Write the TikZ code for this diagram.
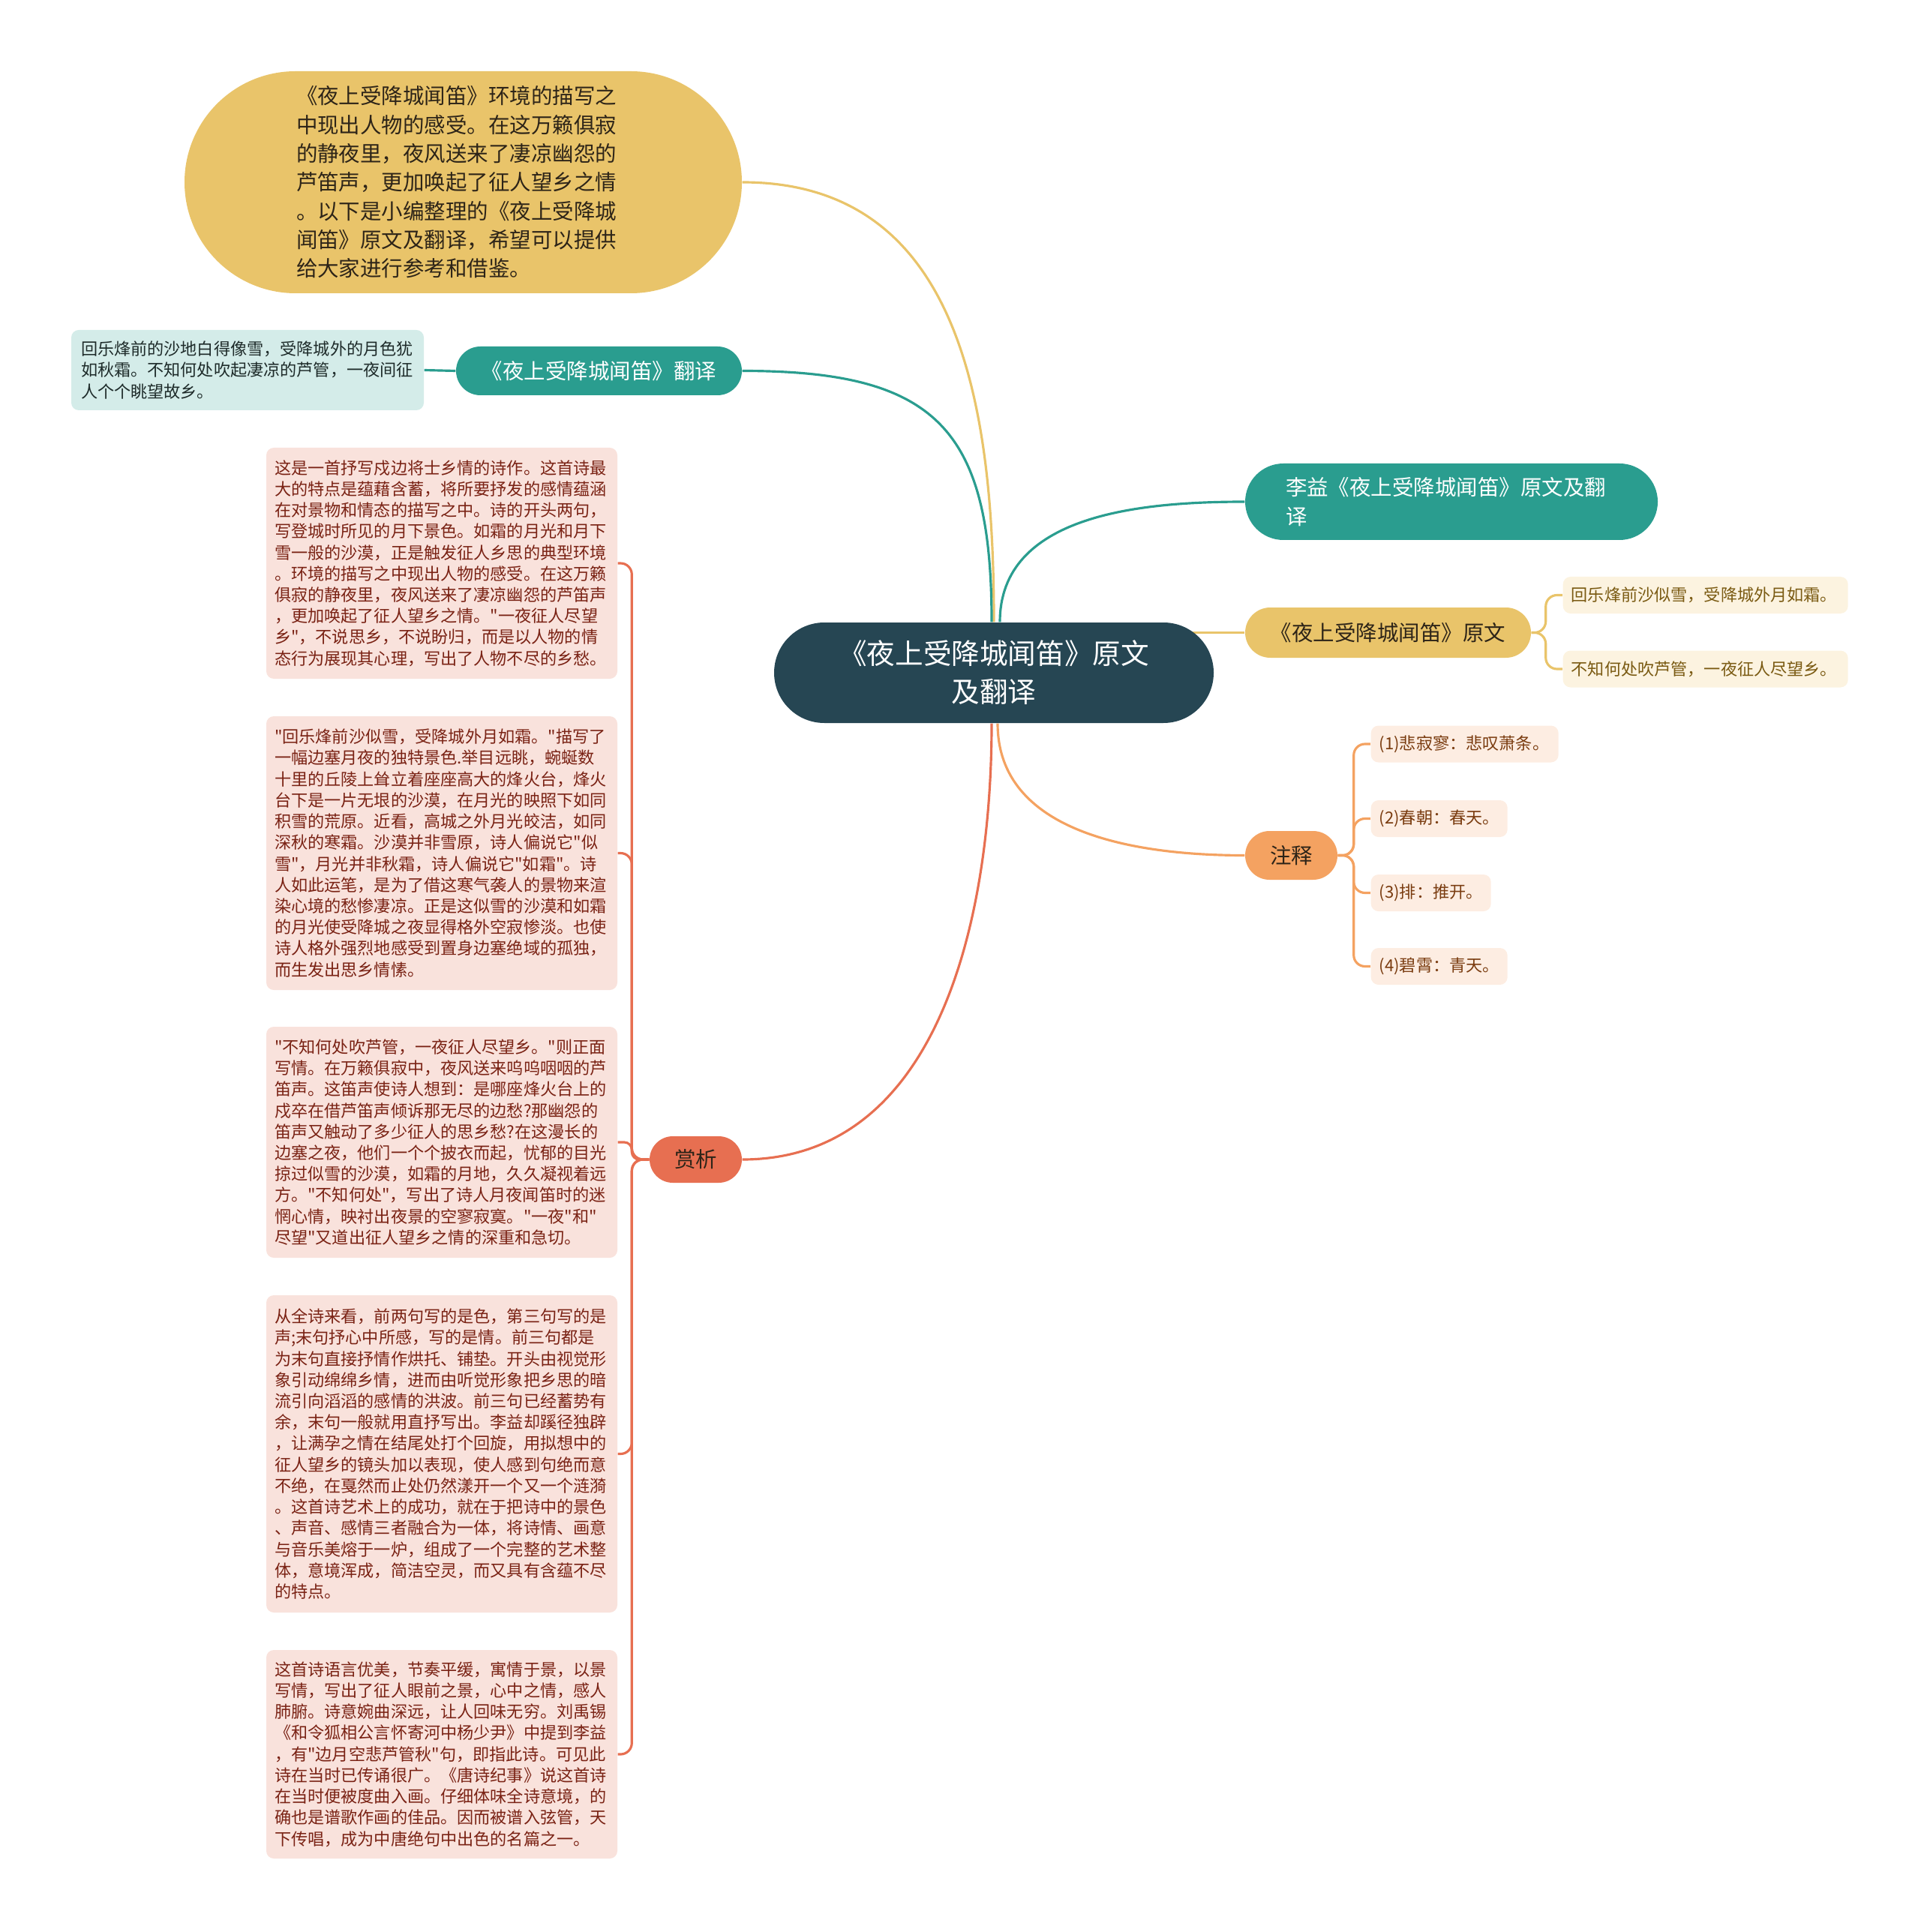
\documentclass[tikz,border=0pt]{standalone}
\usepackage{fontspec}
\usepackage{tikz}
\usetikzlibrary{backgrounds}
\newfontfamily\cjk{Noto Sans CJK SC}
\definecolor{rootc}{HTML}{264653}
\definecolor{tealc}{HTML}{2A9D8F}
\definecolor{yellc}{HTML}{E9C46A}
\definecolor{orngc}{HTML}{F4A261}
\definecolor{coralc}{HTML}{E76F51}
\definecolor{tealleaf}{HTML}{D4ECE9}
\definecolor{yellleaf}{HTML}{FCF3E0}
\definecolor{orngleaf}{HTML}{FDEDE2}
\definecolor{coralleaf}{HTML}{F9E2DC}
\definecolor{darktext}{HTML}{2D2418}
\definecolor{tealtext}{HTML}{1E2B2A}
\definecolor{yelltext}{HTML}{7A5A12}
\definecolor{orngtext}{HTML}{7A3C10}
\definecolor{coraltext}{HTML}{7A2214}
\newcommand\leaffont{\cjk\fontsize{6.3pt}{8.03pt}\selectfont}
\newcommand\topicfont{\cjk\fontsize{8.1pt}{10.9pt}\selectfont}
\newcommand\rootfont{\cjk\fontsize{10.7pt}{14.5pt}\selectfont}

\begin{document}
\begin{tikzpicture}[
  root/.style={fill=rootc,text=white,font=\rootfont,rounded corners=0.67cm,minimum width=5.86cm,minimum height=1.34cm,text width=4.4cm,align=center,inner sep=0pt},
  topic/.style={rounded corners=#1,minimum height=2*#1,inner sep=0pt,font=\topicfont},
  leaf/.style={rounded corners=0.1cm,font=\leaffont,align=left,inner xsep=0.11cm,inner ysep=0pt},
  link/.style={draw=#1,line width=0.9pt}]
\useasboundingbox (0,0) rectangle (25.6,-25.76);
\node[root] (root) at (13.25,-8.97) {《夜上受降城闻笛》原文\\及翻译};
\node[topic=1.48cm,fill=yellc,text=darktext,minimum width=7.43cm,text width=4.45cm,align=left] (intro) at (6.175,-2.43) {《夜上受降城闻笛》环境的描写之\\中现出人物的感受。在这万籁俱寂\\的静夜里，夜风送来了凄凉幽怨的\\芦笛声，更加唤起了征人望乡之情\\。以下是小编整理的《夜上受降城\\闻笛》原文及翻译，希望可以提供\\给大家进行参考和借鉴。};
\node[topic=0.325cm,fill=tealc,text=white,minimum width=3.81cm] (trans) at (7.985,-4.945) {《夜上受降城闻笛》翻译};
\node[leaf,fill=tealleaf,text=tealtext,text width=4.44cm,inner xsep=0.13cm,minimum height=1.07cm] (transleaf) at (3.30,-4.935) {回乐烽前的沙地白得像雪，受降城外的月色犹\\如秋霜。不知何处吹起凄凉的芦管，一夜间征\\人个个眺望故乡。};
\node[topic=0.51cm,fill=tealc,text=white,minimum width=5.5cm,text width=4.42cm,align=left] (liyi) at (19.35,-6.69) {李益《夜上受降城闻笛》原文及翻\\译};
\node[topic=0.335cm,fill=yellc,text=darktext,minimum width=3.81cm] (yuanwen) at (18.505,-8.435) {《夜上受降城闻笛》原文};
\node[leaf,fill=yellleaf,text=yelltext,anchor=west,text width=3.58cm,minimum height=0.49cm] (yw1) at (20.83,-7.935) {回乐烽前沙似雪，受降城外月如霜。};
\node[leaf,fill=yellleaf,text=yelltext,anchor=west,text width=3.58cm,minimum height=0.49cm] (yw2) at (20.83,-8.92) {不知何处吹芦管，一夜征人尽望乡。};
\node[topic=0.325cm,fill=orngc,text=darktext,minimum width=1.23cm] (zhushi) at (17.215,-11.405) {注释};
\node[leaf,fill=orngleaf,text=orngtext,anchor=west,text width=2.28cm,minimum height=0.49cm] (zs1) at (18.27,-9.92) {(1)悲寂寥：悲叹萧条。};
\node[leaf,fill=orngleaf,text=orngtext,anchor=west,text width=1.60cm,minimum height=0.49cm] (zs2) at (18.27,-10.915) {(2)春朝：春天。};
\node[leaf,fill=orngleaf,text=orngtext,anchor=west,text width=1.38cm,minimum height=0.49cm] (zs3) at (18.27,-11.905) {(3)排：推开。};
\node[leaf,fill=orngleaf,text=orngtext,anchor=west,text width=1.60cm,minimum height=0.49cm] (zs4) at (18.27,-12.885) {(4)碧霄：青天。};
\node[topic=0.31cm,fill=coralc,text=darktext,minimum width=1.23cm] (shangxi) at (9.275,-15.46) {赏析};
\node[leaf,fill=coralleaf,text=coraltext,text width=4.46cm,minimum height=3.08cm] (sx1) at (5.89,-7.51) {这是一首抒写戍边将士乡情的诗作。这首诗最\\大的特点是蕴藉含蓄，将所要抒发的感情蕴涵\\在对景物和情态的描写之中。诗的开头两句，\\写登城时所见的月下景色。如霜的月光和月下\\雪一般的沙漠，正是触发征人乡思的典型环境\\。环境的描写之中现出人物的感受。在这万籁\\俱寂的静夜里，夜风送来了凄凉幽怨的芦笛声\\，更加唤起了征人望乡之情。"一夜征人尽望\\乡"，不说思乡，不说盼归，而是以人物的情\\态行为展现其心理，写出了人物不尽的乡愁。};
\node[leaf,fill=coralleaf,text=coraltext,text width=4.46cm,minimum height=3.65cm] (sx2) at (5.89,-11.375) {"回乐烽前沙似雪，受降城外月如霜。"描写了\\一幅边塞月夜的独特景色.举目远眺，蜿蜒数\\十里的丘陵上耸立着座座高大的烽火台，烽火\\台下是一片无垠的沙漠，在月光的映照下如同\\积雪的荒原。近看，高城之外月光皎洁，如同\\深秋的寒霜。沙漠并非雪原，诗人偏说它"似\\雪"，月光并非秋霜，诗人偏说它"如霜"。诗\\人如此运笔，是为了借这寒气袭人的景物来渲\\染心境的愁惨凄凉。正是这似雪的沙漠和如霜\\的月光使受降城之夜显得格外空寂惨淡。也使\\诗人格外强烈地感受到置身边塞绝域的孤独，\\而生发出思乡情愫。};
\node[leaf,fill=coralleaf,text=coraltext,text width=4.46cm,minimum height=3.08cm] (sx3) at (5.89,-15.23) {"不知何处吹芦管，一夜征人尽望乡。"则正面\\写情。在万籁俱寂中，夜风送来呜呜咽咽的芦\\笛声。这笛声使诗人想到：是哪座烽火台上的\\戍卒在借芦笛声倾诉那无尽的边愁?那幽怨的\\笛声又触动了多少征人的思乡愁?在这漫长的\\边塞之夜，他们一个个披衣而起，忧郁的目光\\掠过似雪的沙漠，如霜的月地，久久凝视着远\\方。"不知何处"，写出了诗人月夜闻笛时的迷\\惘心情，映衬出夜景的空寥寂寞。"一夜"和"\\尽望"又道出征人望乡之情的深重和急切。};
\node[leaf,fill=coralleaf,text=coraltext,text width=4.46cm,minimum height=4.23cm] (sx4) at (5.89,-19.385) {从全诗来看，前两句写的是色，第三句写的是\\声;末句抒心中所感，写的是情。前三句都是\\为末句直接抒情作烘托、铺垫。开头由视觉形\\象引动绵绵乡情，进而由听觉形象把乡思的暗\\流引向滔滔的感情的洪波。前三句已经蓄势有\\余，末句一般就用直抒写出。李益却蹊径独辟\\，让满孕之情在结尾处打个回旋，用拟想中的\\征人望乡的镜头加以表现，使人感到句绝而意\\不绝，在戛然而止处仍然漾开一个又一个涟漪\\。这首诗艺术上的成功，就在于把诗中的景色\\、声音、感情三者融合为一体，将诗情、画意\\与音乐美熔于一炉，组成了一个完整的艺术整\\体，意境浑成，简洁空灵，而又具有含蕴不尽\\的特点。};
\node[leaf,fill=coralleaf,text=coraltext,text width=4.46cm,minimum height=2.78cm] (sx5) at (5.89,-23.39) {这首诗语言优美，节奏平缓，寓情于景，以景\\写情，写出了征人眼前之景，心中之情，感人\\肺腑。诗意婉曲深远，让人回味无穷。刘禹锡\\《和令狐相公言怀寄河中杨少尹》中提到李益\\，有"边月空悲芦管秋"句，即指此诗。可见此\\诗在当时已传诵很广。《唐诗纪事》说这首诗\\在当时便被度曲入画。仔细体味全诗意境，的\\确也是谱歌作画的佳品。因而被谱入弦管，天\\下传唱，成为中唐绝句中出色的名篇之一。};
\begin{scope}[on background layer]
\draw[link=yellc] (root.north) to[out=90,in=0,looseness=1.1] (intro.east);
\draw[link=tealc] ([xshift=-0.03cm]root.north) to[out=90,in=0,looseness=1.4] (trans.east);
\draw[link=tealc] ([xshift=0.08cm]root.north) to[out=90,in=180] (liyi.west);
\draw[link=yellc] (root.center |- yuanwen.west) -- (yuanwen.west);
\draw[link=orngc] ([xshift=0.05cm]root.south) to[out=-90,in=180] (zhushi.west);
\draw[link=coralc] ([xshift=-0.03cm]root.south) to[out=-90,in=0] (shangxi.east);
\draw[link=tealc] (trans.west) -- (transleaf.east);
\draw[link=yellc,rounded corners=0.15cm] (yuanwen.east) -- ++(0.19,0) |- (yw1.west);
\draw[link=yellc,rounded corners=0.15cm] (yuanwen.east) -- ++(0.19,0) |- (yw2.west);
\foreach \n in {zs1,zs2,zs3,zs4}
  \draw[link=orngc,rounded corners=0.15cm] (zhushi.east) -- ++(0.21,0) |- (\n.west);
\foreach \n in {sx1,sx2,sx4,sx5}
  \draw[link=coralc,rounded corners=0.15cm] (shangxi.west) -- ++(-0.23,0) |- (\n.east);
\draw[link=coralc,rounded corners=0.1cm] (shangxi.west) -- ++(-0.23,0) |- (sx3.east);
\end{scope}
\end{tikzpicture}
\end{document}
